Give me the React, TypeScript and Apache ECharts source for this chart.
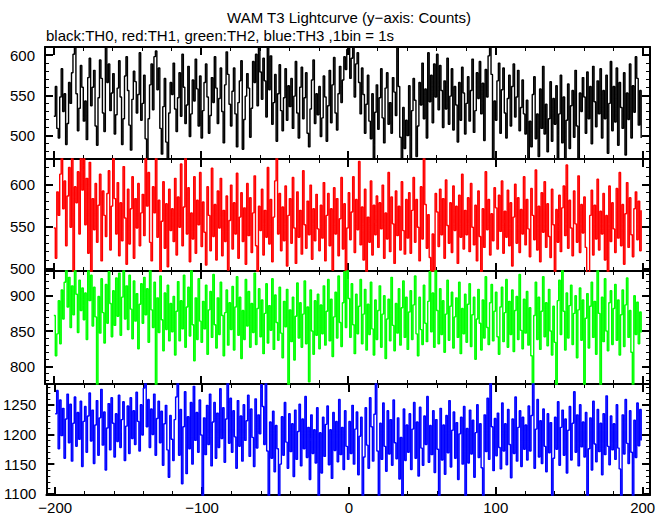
import React, { useEffect, useRef } from "react";
import * as echarts from "echarts";

const titleText = "WAM T3 Lightcurve (y\u2212axis: Counts)";
const subtitleText = "black:TH0, red:TH1, green:TH2, blue:TH3 ,1bin = 1s";

const startTime = -200;
const binSize = 1;

const th0 = [
  524, 561, 509, 497, 548, 583, 530, 552, 489, 515, 566, 540, 578, 601, 615, 552, 506, 534, 587, 560,
  518, 543, 495, 572, 596, 537, 560, 581, 512, 488, 547, 594, 571, 528, 505, 614, 566, 589, 531, 553,
  577, 502, 526, 559, 593, 548, 489, 521, 574, 598, 556, 513, 482, 545, 580, 567, 528, 551, 603, 519,
  540, 575, 496, 468, 521, 563, 589, 532, 598, 605, 557, 584, 509, 477, 536, 571, 492, 468, 528, 566,
  551, 590, 533, 505, 547, 578, 524, 601, 560, 515, 538, 586, 499, 527, 569, 543, 595, 558, 512, 574,
  497, 531, 566, 589, 548, 503, 525, 572, 541, 598, 559, 515, 546, 584, 530, 491, 563, 604, 576, 539,
  512, 555, 584, 527, 486, 541, 568, 593, 483, 520, 549, 577, 559, 498, 534, 592, 566, 601, 537, 614,
  579, 545, 596, 568, 523, 613, 557, 599, 514, 541, 576, 493, 552, 588, 531, 506, 547, 583, 519, 562,
  536, 571, 509, 549, 592, 528, 497, 560, 585, 521, 547, 578, 503, 486, 533, 569, 594, 515, 552, 526,
  561, 499, 522, 574, 548, 493, 537, 581, 516, 563, 597, 528, 507, 552, 586, 541, 569, 598, 582, 607,
  614, 571, 596, 612, 548, 589, 603, 566, 527, 584, 551, 503, 539, 575, 518, 496, 552, 470, 529, 563,
  508, 547, 583, 522, 491, 559, 578, 514, 541, 503, 572, 554, 525, 614, 561, 498, 468, 535, 484, 519,
  500, 562, 469, 531, 571, 544, 474, 512, 566, 538, 590, 521, 558, 497, 603, 542, 575, 516, 589, 548,
  601, 532, 587, 556, 510, 568, 533, 596, 514, 549, 583, 507, 561, 538, 492, 566, 519, 585, 553, 502,
  540, 573, 518, 556, 595, 504, 531, 578, 546, 592, 527, 565, 494, 582, 548, 599, 614, 576, 468, 543,
  519, 568, 590, 503, 557, 584, 528, 497, 546, 575, 512, 561, 589, 523, 548, 581, 506, 535, 569, 527,
  502, 544, 470, 518, 486, 551, 573, 496, 527, 474, 558, 509, 586, 502, 539, 480, 521, 567, 493, 546,
  514, 562, 469, 527, 575, 491, 548, 468, 519, 564, 484, 537, 556, 498, 581, 512, 469, 553, 530, 572,
  548, 503, 579, 521, 561, 490, 586, 542, 511, 568, 527, 583, 497, 556, 521, 575, 478, 540, 592, 506,
  561, 517, 584, 488, 566, 535, 509, 578, 476, 553, 520, 589, 497, 562, 529, 598, 571, 513, 556, 497,
];

const th1 = [
  548, 512, 591, 563, 612, 634, 571, 604, 527, 586, 620, 549, 634, 494, 597, 578, 615, 541, 634, 593,
  634, 552, 607, 518, 626, 494, 583, 546, 601, 531, 575, 612, 509, 592, 563, 538, 589, 616, 522, 574,
  634, 583, 541, 602, 515, 578, 533, 621, 560, 505, 594, 529, 571, 609, 512, 583, 548, 601, 527, 566,
  588, 539, 634, 574, 614, 531, 509, 597, 566, 634, 537, 581, 494, 556, 603, 524, 577, 502, 594, 545,
  571, 532, 607, 516, 585, 549, 624, 527, 573, 634, 541, 596, 508, 566, 535, 609, 518, 581, 552, 614,
  526, 579, 543, 504, 597, 563, 521, 619, 538, 576, 510, 592, 548, 607, 515, 569, 532, 586, 498, 557,
  599, 523, 578, 541, 613, 512, 561, 590, 532, 572, 505, 601, 539, 584, 519, 566, 610, 527, 494, 574,
  545, 594, 516, 569, 537, 620, 529, 582, 508, 561, 604, 634, 541, 589, 521, 573, 533, 598, 503, 563,
  583, 530, 608, 548, 506, 591, 537, 569, 517, 616, 552, 524, 580, 540, 599, 511, 571, 533, 588, 547,
  521, 575, 536, 602, 509, 563, 589, 527, 571, 498, 596, 541, 583, 515, 559, 608, 523, 577, 494, 548,
  590, 534, 567, 609, 519, 582, 546, 627, 528, 573, 510, 594, 494, 561, 531, 604, 516, 575, 540, 586,
  525, 578, 547, 599, 512, 566, 535, 614, 520, 585, 553, 506, 592, 539, 574, 522, 603, 545, 517, 582,
  536, 590, 518, 569, 608, 531, 582, 549, 509, 597, 535, 634, 576, 524, 564, 513, 494, 541, 496, 589,
  567, 526, 594, 540, 583, 512, 605, 551, 530, 578, 519, 598, 545, 574, 506, 587, 537, 612, 523, 569,
  540, 584, 520, 601, 549, 528, 575, 509, 592, 538, 494, 571, 525, 615, 546, 582, 516, 565, 533, 596,
  572, 523, 587, 544, 604, 518, 568, 537, 593, 527, 578, 503, 561, 600, 530, 584, 519, 570, 541, 609,
  528, 582, 547, 514, 595, 563, 534, 617, 522, 574, 508, 590, 543, 603, 525, 577, 538, 513, 594, 552,
  494, 570, 531, 587, 520, 572, 598, 539, 623, 524, 581, 548, 515, 592, 553, 531, 610, 519, 576, 542,
  585, 525, 494, 496, 563, 593, 516, 575, 535, 606, 522, 568, 541, 589, 510, 563, 494, 598, 532, 578,
  547, 519, 595, 536, 614, 527, 576, 505, 565, 602, 525, 584, 540, 514, 571, 591, 534, 580, 521, 569,
];

const th2 = [
  872, 815, 846, 893, 832, 908, 867, 919, 937, 884, 926, 855, 914, 873, 937, 902, 848, 922, 879, 911,
  866, 904, 838, 937, 893, 929, 857, 912, 870, 770, 899, 847, 924, 876, 833, 916, 861, 934, 889, 842,
  907, 858, 925, 871, 932, 844, 898, 937, 867, 914, 852, 929, 881, 839, 921, 864, 903, 825, 888, 917,
  861, 926, 873, 910, 834, 937, 880, 855, 919, 770, 897, 848, 928, 866, 822, 904, 852, 915, 836, 889,
  849, 899, 816, 878, 920, 836, 893, 853, 929, 827, 884, 912, 843, 937, 859, 808, 897, 838, 924, 864,
  834, 892, 853, 915, 817, 880, 906, 841, 930, 859, 826, 897, 845, 919, 872, 815, 876, 908, 830, 890,
  852, 913, 823, 884, 927, 844, 898, 811, 879, 838, 923, 857, 906, 827, 889, 848, 932, 831, 882, 910,
  842, 894, 818, 875, 917, 833, 886, 851, 924, 824, 901, 862, 837, 912, 847, 812, 892, 856, 909, 770,
  880, 835, 898, 809, 871, 918, 840, 890, 827, 874, 921, 832, 884, 778, 908, 850, 817, 893, 844, 902,
  825, 887, 846, 914, 830, 878, 923, 836, 895, 814, 870, 905, 840, 928, 862, 828, 890, 934, 855, 937,
  896, 841, 917, 859, 818, 902, 846, 885, 923, 832, 874, 909, 823, 888, 845, 919, 853, 816, 894, 838,
  879, 914, 827, 874, 900, 811, 867, 895, 836, 926, 858, 822, 889, 847, 910, 830, 883, 921, 841, 898,
  824, 877, 907, 838, 887, 928, 846, 815, 898, 852, 831, 915, 861, 835, 892, 934, 849, 904, 827, 937,
  879, 832, 910, 845, 893, 820, 874, 922, 837, 885, 905, 826, 870, 897, 841, 919, 818, 882, 846, 902,
  834, 888, 917, 828, 873, 898, 810, 867, 909, 861, 823, 894, 840, 927, 855, 831, 890, 916, 836, 878,
  905, 842, 817, 884, 912, 835, 876, 923, 827, 892, 845, 908, 821, 879, 899, 838, 930, 851, 825, 895,
  847, 906, 830, 883, 815, 772, 872, 919, 838, 898, 824, 878, 927, 842, 890, 829, 909, 850, 816, 885,
  834, 770, 893, 922, 845, 937, 878, 823, 904, 840, 886, 915, 831, 875, 900, 812, 880, 911, 837, 894,
  770, 868, 903, 826, 885, 919, 841, 892, 817, 937, 875, 770, 898, 835, 924, 850, 822, 890, 907, 831,
  882, 916, 837, 894, 816, 873, 908, 828, 887, 925, 841, 879, 820, 770, 900, 845, 891, 832, 877, 848,
];

const th3 = [
  1235, 1274, 1176, 1258, 1198, 1244, 1160, 1226, 1268, 1186, 1251, 1155, 1219, 1263, 1180, 1237, 1192, 1256, 1146, 1222,
  1247, 1170, 1231, 1270, 1189, 1241, 1151, 1216, 1257, 1165, 1228, 1276, 1182, 1238, 1140, 1211, 1252, 1174, 1262, 1219,
  1162, 1235, 1188, 1266, 1178, 1225, 1255, 1156, 1214, 1248, 1168, 1262, 1193, 1240, 1183, 1271, 1222, 1172, 1250, 1199,
  1278, 1290, 1213, 1259, 1178, 1243, 1200, 1268, 1165, 1227, 1256, 1186, 1239, 1148, 1218, 1249, 1174, 1128, 1232, 1192,
  1156, 1225, 1263, 1290, 1165, 1242, 1117, 1213, 1272, 1134, 1230, 1176, 1254, 1150, 1281, 1190, 1237, 1170, 1258, 1199,
  1095, 1228, 1166, 1249, 1183, 1268, 1147, 1221, 1254, 1160, 1236, 1178, 1277, 1193, 1245, 1153, 1226, 1290, 1185, 1261,
  1170, 1240, 1196, 1143, 1257, 1180, 1231, 1155, 1250, 1190, 1223, 1266, 1163, 1243, 1195, 1146, 1260, 1177, 1233, 1201,
  1284, 1247, 1183, 1290, 1172, 1095, 1221, 1160, 1239, 1137, 1215, 1176, 1095, 1150, 1230, 1165, 1254, 1187, 1143, 1235,
  1171, 1218, 1129, 1241, 1158, 1205, 1251, 1147, 1226, 1176, 1264, 1161, 1212, 1124, 1233, 1168, 1208, 1152, 1245, 1095,
  1203, 1135, 1229, 1163, 1217, 1248, 1149, 1208, 1126, 1237, 1173, 1222, 1154, 1259, 1166, 1212, 1141, 1240, 1180, 1158,
  1222, 1168, 1249, 1150, 1209, 1238, 1132, 1197, 1229, 1095, 1162, 1245, 1182, 1143, 1262, 1213, 1155, 1234, 1290, 1172,
  1095, 1219, 1158, 1253, 1180, 1138, 1240, 1167, 1225, 1148, 1258, 1186, 1159, 1228, 1125, 1195, 1095, 1243, 1156, 1216,
  1170, 1235, 1141, 1209, 1254, 1160, 1221, 1130, 1246, 1177, 1148, 1231, 1183, 1264, 1153, 1215, 1166, 1240, 1136, 1225,
  1175, 1095, 1244, 1157, 1216, 1133, 1232, 1169, 1257, 1145, 1207, 1238, 1160, 1220, 1124, 1201, 1229, 1150, 1247, 1095,
  1210, 1152, 1241, 1167, 1224, 1128, 1203, 1250, 1161, 1218, 1144, 1095, 1233, 1171, 1261, 1158, 1290, 1213, 1139, 1227,
  1164, 1236, 1178, 1142, 1253, 1172, 1218, 1149, 1242, 1183, 1127, 1226, 1168, 1263, 1155, 1212, 1240, 1146, 1229, 1175,
  1216, 1157, 1248, 1172, 1232, 1290, 1143, 1209, 1259, 1162, 1223, 1151, 1243, 1180, 1137, 1235, 1169, 1220, 1095, 1160,
  1229, 1175, 1255, 1148, 1212, 1241, 1165, 1226, 1135, 1207, 1247, 1157, 1219, 1272, 1170, 1233, 1147, 1250, 1179, 1221,
  1162, 1237, 1095, 1176, 1228, 1140, 1256, 1184, 1154, 1242, 1171, 1219, 1132, 1235, 1166, 1265, 1180, 1149, 1231, 1174,
  1218, 1158, 1250, 1177, 1142, 1095, 1233, 1167, 1259, 1185, 1151, 1240, 1170, 1095, 1224, 1161, 1253, 1181, 1242, 1190,
];

const seriesValues = [th0, th1, th2, th3];
const seriesNames = ["TH0", "TH1", "TH2", "TH3"];
const seriesColors = ["#000000", "#ff0000", "#00ff00", "#0000ff"];
const yMins = [471, 497, 775, 1098];
const yMaxs = [610, 630, 935, 1285];
const xMin = -206;
const xMax = 205;
const xMajor = 100;
const xMinor = 20;
const yMajor = 50;
const yMinor = 10;

const panelTops = [47, 159, 271, 384];
const panelHeights = [112, 112, 113, 112];

const FONT = "'Liberation Sans', Arial, Helvetica, sans-serif";

function fmtNum(v: number) {
  return v < 0 ? "\u2212" + Math.abs(v) : String(v);
}

export default function App() {
  const ref = useRef<HTMLDivElement>(null);

  useEffect(() => {
    if (!ref.current) return;
    const chart = echarts.init(ref.current, undefined, { renderer: "svg" });

    const grids: any[] = [];
    const xAxes: any[] = [];
    const yAxes: any[] = [];
    const series: any[] = [];

    for (let p = 0; p < 4; p++) {
      grids.push({ left: 45, right: 19, top: panelTops[p], height: panelHeights[p] });
      const xBase = (major: boolean, pos: string, showLabel: boolean) => ({
        gridIndex: p,
        type: "value",
        position: pos,
        min: xMin,
        max: xMax,
        minInterval: major ? xMajor : xMinor,
        maxInterval: major ? xMajor : xMinor,
        axisLine: { show: major, onZero: false, lineStyle: { color: "#000", width: 2 } },
        axisTick: {
          show: true,
          inside: true,
          length: major ? 8 : 4,
          lineStyle: { color: "#000", width: major ? 2 : 1 },
        },
        axisLabel: {
          show: showLabel,
          color: "#000",
          fontFamily: FONT,
          fontSize: 15,
          margin: 5,
          showMinLabel: true,
          showMaxLabel: true,
          formatter: (v: number) => (Math.abs(v % xMajor) < 1e-6 ? fmtNum(v) : ""),
        },
        splitLine: { show: false },
      });
      xAxes.push(xBase(true, "bottom", p === 3));
      xAxes.push(xBase(true, "top", false));
      xAxes.push(xBase(false, "bottom", false));
      xAxes.push(xBase(false, "top", false));

      const yBase = (major: boolean, pos: string, showLabel: boolean) => ({
        gridIndex: p,
        type: "value",
        position: pos,
        min: yMins[p],
        max: yMaxs[p],
        minInterval: major ? yMajor : yMinor,
        maxInterval: major ? yMajor : yMinor,
        axisLine: { show: major, onZero: false, lineStyle: { color: "#000", width: 2 } },
        axisTick: {
          show: true,
          inside: true,
          length: major ? 8 : 4,
          lineStyle: { color: "#000", width: major ? 2 : 1 },
        },
        axisLabel: {
          show: showLabel,
          color: "#000",
          fontFamily: FONT,
          fontSize: 15,
          margin: 10,
          formatter: (v: number) => (Math.abs(v % yMajor) < 1e-6 ? fmtNum(v) : ""),
        },
        splitLine: { show: false },
      });
      yAxes.push(yBase(true, "left", true));
      yAxes.push(yBase(false, "left", false));
      yAxes.push(yBase(true, "right", false));
      yAxes.push(yBase(false, "right", false));

      series.push({
        type: "line",
        name: seriesNames[p],
        xAxisIndex: p * 4,
        yAxisIndex: p * 4,
        step: "end",
        symbol: "none",
        clip: true,
        lineStyle: { color: seriesColors[p], width: 1.4 },
        data: seriesValues[p].map((v, i) => [startTime + i * binSize, v]),
      });
    }

    chart.setOption({
      animation: false,
      backgroundColor: "#ffffff",
      grid: grids,
      xAxis: xAxes,
      yAxis: yAxes,
      series,
      graphic: [
        {
          type: "text",
          x: 349,
          y: 17,
          style: {
            text: titleText,
            fill: "#000",
            font: `15px ${FONT}`,
            textAlign: "center",
            textVerticalAlign: "middle",
          },
        },
        {
          type: "text",
          x: 46,
          y: 35,
          style: {
            text: subtitleText,
            fill: "#000",
            font: `15px ${FONT}`,
            textAlign: "left",
            textVerticalAlign: "middle",
          },
        },
      ],
    });

    return () => chart.dispose();
  }, []);

  return (
    <div
      ref={ref}
      style={{ position: "absolute", left: 0, top: 0, width: 669, height: 515, background: "#fff" }}
    />
  );
}
